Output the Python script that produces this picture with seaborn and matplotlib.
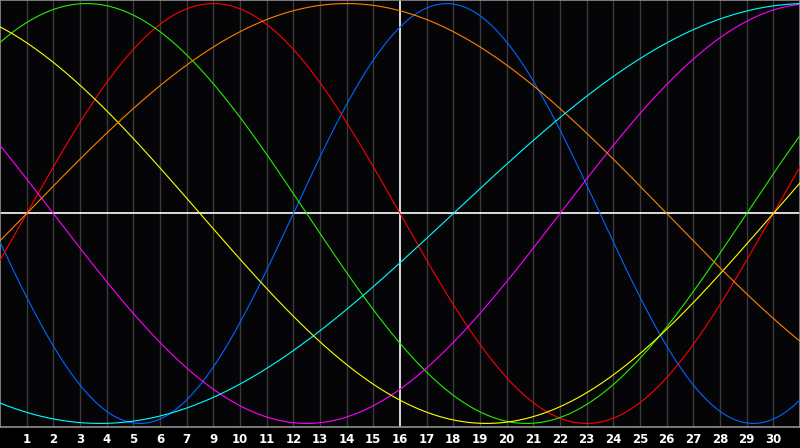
import numpy as np
import pandas as pd
import matplotlib
matplotlib.use("Agg")
import matplotlib.pyplot as plt
import seaborn as sns

# chart data: biorhythm cycles over a 30 day window
cycle_names = ["Physical", "Emotional", "Intellectual", "Intuitive",
               "Aesthetic", "Awareness", "Spiritual"]
cycle_periods = [23, 28, 33, 38, 43, 48, 53]
# day on the chart where each cycle crosses zero going up
cycle_zero_up = [11, 1, -5, 21, -14, 1, 17]
cycle_colors = ["#0066ff", "#ff0000", "#22ee00", "#ff00ff",
                "#ffff00", "#ff8000", "#00ffff"]

day_ticks = list(range(1, 30))
day_labels = ["1", "2", "3", "4", "5", "6", "7", "9", "10", "11", "12", "13",
              "14", "15", "16", "17", "18", "19", "20", "21", "22", "23",
              "24", "25", "26", "27", "28", "29", "30"]

# build long table
t = np.linspace(0, 30, 901)
rows = []
for name, per, z in zip(cycle_names, cycle_periods, cycle_zero_up):
    rows.append(pd.DataFrame({"day": t,
                              "value": np.sin(2 * np.pi * (t - z) / per),
                              "cycle": name}))
df = pd.concat(rows, ignore_index=True)

sns.set_style("dark")
fig = plt.figure(figsize=(8, 4.48), dpi=100, facecolor="black")
ax = fig.add_axes([0, 21 / 448, 1, 427 / 448])
ax.set_facecolor("#050508")

# grid
for d in day_ticks:
    if d == 15:
        continue
    ax.axvline(d, color="#3a3a3a", lw=1, zorder=1)
ax.axvline(15, color="white", lw=1.2, zorder=1)
ax.axhline(0, color="white", lw=1.2, zorder=1)

sns.lineplot(data=df, x="day", y="value", hue="cycle",
             palette=dict(zip(cycle_names, cycle_colors)),
             linewidth=0.8, legend=False, ax=ax, zorder=3)

ax.set_xlim(0, 30)
ax.set_ylim(-1.017, 1.017)
ax.set_xticks(day_ticks)
ax.set_xticklabels(day_labels, color="white", fontweight="bold",
                   fontsize=8.5, family="DejaVu Sans")
ax.set_yticks([])
ax.tick_params(axis="x", length=0, pad=4)
ax.set_xlabel("")
ax.set_ylabel("")
ax.grid(False)
for s in ax.spines.values():
    s.set_visible(True)
    s.set_color("#909090")
    s.set_linewidth(1.2)

fig.savefig("out.png", dpi=100, facecolor="black")
